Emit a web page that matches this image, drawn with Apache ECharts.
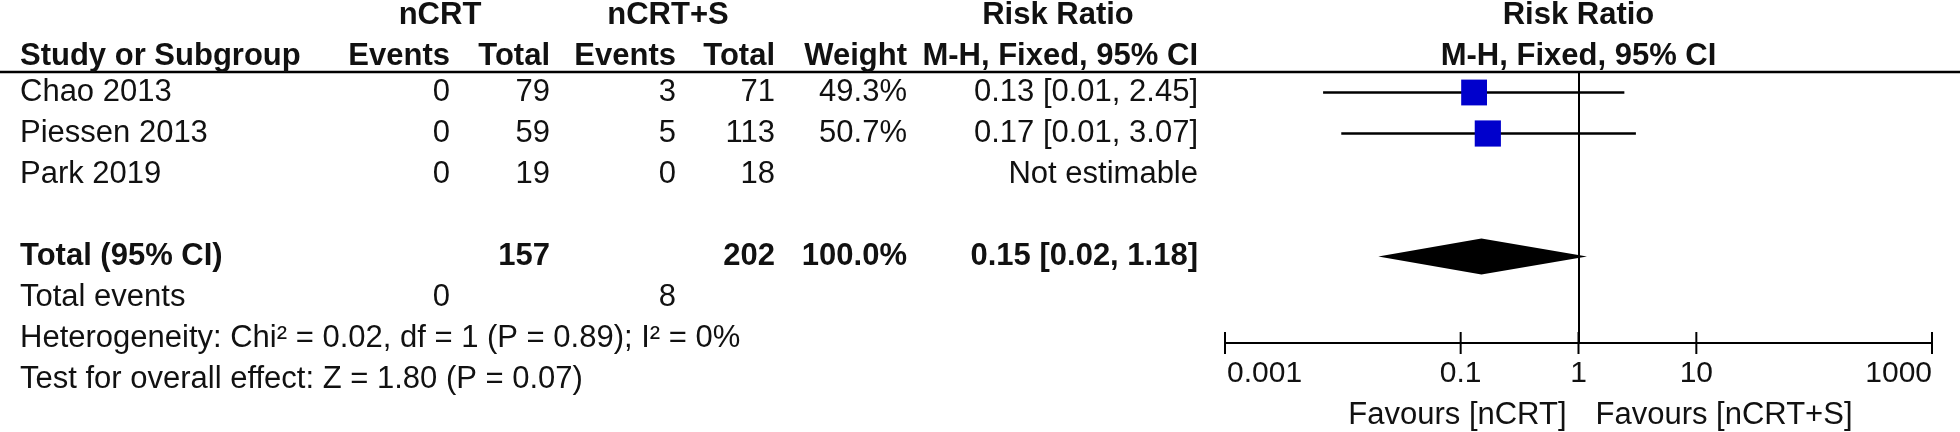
<!DOCTYPE html>
<html>
<head>
<meta charset="utf-8">
<title>Forest plot</title>
<script src="https://cdn.jsdelivr.net/npm/echarts@6.0.0/dist/echarts.min.js"></script>
<style>
  html, body { margin: 0; padding: 0; background: #fff; }
  #forest { width: 1960px; height: 432px; }
</style>
</head>
<body>
<div id="forest"></div>
<script>
// study rows
const studies = ['Chao 2013', 'Piessen 2013', 'Park 2019'];
const ncrtEvents = [0, 0, 0];
const ncrtTotal = [79, 59, 19];
const surgEvents = [3, 5, 0];
const surgTotal = [71, 113, 18];
const weightText = ['49.3%', '50.7%', ''];
const weightPct = [49.3, 50.7, null];
const rrText = ['0.13 [0.01, 2.45]', '0.17 [0.01, 3.07]', 'Not estimable'];
const rrEst = [0.13, 0.17, null];
const rrLow = [0.0068, 0.0097, null];
const rrHigh = [2.45, 3.07, null];

// pooled
const totalLabel = 'Total (95% CI)';
const totalNcrt = 157;
const totalSurg = 202;
const totalWeight = '100.0%';
const totalRRText = '0.15 [0.02, 1.18]';
const pooledRR = [0.02, 0.15, 1.18]; // low, est, high
const eventsNcrt = 0;
const eventsSurg = 8;
const hetText = 'Heterogeneity: Chi\u00B2 = 0.02, df = 1 (P = 0.89); I\u00B2 = 0%';
const effectText = 'Test for overall effect: Z = 1.80 (P = 0.07)';

// axis
const axisTicks = [0.001, 0.1, 1, 10, 1000];
const favours = ['Favours [nCRT]', 'Favours [nCRT+S]'];

// layout
const ROW = 41;
const FONT = '31px "Liberation Sans", Arial, sans-serif';
const BOLD = 'bold ' + FONT;
const COL = { study: 20, ev1: 450, tot1: 550, ev2: 676, tot2: 775, weight: 907, rr: 1198 };
const PLOT_H = 271;
const plotYMax = PLOT_H / ROW - 0.5;
const HEAD1 = -1.87, HEAD2 = -0.88;

// table cells
const cells = [];
function cell(x, row, text, align, bold) {
	cells.push({ x: x, row: row, text: String(text), align: align, bold: !!bold });
}
cell(440, HEAD1, 'nCRT', 'center', true);
cell(668, HEAD1, 'nCRT+S', 'center', true);
cell(1058, HEAD1, 'Risk Ratio', 'center', true);
cell(COL.study, HEAD2, 'Study or Subgroup', 'left', true);
cell(COL.ev1, HEAD2, 'Events', 'right', true);
cell(COL.tot1, HEAD2, 'Total', 'right', true);
cell(COL.ev2, HEAD2, 'Events', 'right', true);
cell(COL.tot2, HEAD2, 'Total', 'right', true);
cell(COL.weight, HEAD2, 'Weight', 'right', true);
cell(COL.rr, HEAD2, 'M-H, Fixed, 95% CI', 'right', true);
for (let i = 0; i < studies.length; i++) {
	cell(COL.study, i, studies[i], 'left');
	cell(COL.ev1, i, ncrtEvents[i], 'right');
	cell(COL.tot1, i, ncrtTotal[i], 'right');
	cell(COL.ev2, i, surgEvents[i], 'right');
	cell(COL.tot2, i, surgTotal[i], 'right');
	cell(COL.weight, i, weightText[i], 'right');
	cell(COL.rr, i, rrText[i], 'right');
}
cell(COL.study, 4, totalLabel, 'left', true);
cell(COL.tot1, 4, totalNcrt, 'right', true);
cell(COL.tot2, 4, totalSurg, 'right', true);
cell(COL.weight, 4, totalWeight, 'right', true);
cell(COL.rr, 4, totalRRText, 'right', true);
cell(COL.study, 5, 'Total events', 'left');
cell(COL.ev1, 5, eventsNcrt, 'right');
cell(COL.ev2, 5, eventsSurg, 'right');
cell(COL.study, 6, hetText, 'left');
cell(COL.study, 7, effectText, 'left');

function textEl(x, y, text, align, font) {
	return {
		type: 'text', x: x, y: y,
		style: { text: text, font: font, fill: '#111', align: align, verticalAlign: 'middle' }
	};
}

const studyData = [];
for (let i = 0; i < studies.length; i++) {
	if (rrEst[i] != null) studyData.push([rrLow[i], rrHigh[i], i, rrEst[i], weightPct[i]]);
}

const chart = echarts.init(document.getElementById('forest'));
chart.setOption({
	animation: false,
	grid: [
		{ left: 0, top: 0, width: 1960, height: ROW * 9.75 },
		{ left: 1225, top: 72, width: 707, height: PLOT_H }
	],
	xAxis: [
		{ gridIndex: 0, type: 'value', min: 0, max: 1960, show: false },
		{
			gridIndex: 1, type: 'log', logBase: 10, min: 0.001, max: 1000,
			axisLine: { show: true, onZero: false, lineStyle: { color: '#000', width: 2 } },
			axisTick: { show: false }, axisLabel: { show: false }, splitLine: { show: false }
		}
	],
	yAxis: [
		{ gridIndex: 0, type: 'value', inverse: true, min: -2.25, max: 7.5, show: false },
		{ gridIndex: 1, type: 'value', inverse: true, min: -0.5, max: plotYMax, show: false }
	],
	graphic: [{
		type: 'line', shape: { x1: 0, y1: 72, x2: 1960, y2: 72 },
		style: { stroke: '#000', lineWidth: 2.5 }
	}],
	series: [
		{
			type: 'custom', xAxisIndex: 0, yAxisIndex: 0,
			data: cells.map(c => [c.x, c.row]),
			renderItem: function (params, api) {
				const c = cells[params.dataIndex];
				const p = api.coord([api.value(0), api.value(1)]);
				return textEl(p[0], p[1], c.text, c.align, c.bold ? BOLD : FONT);
			}
		},
		{
			// confidence intervals + line of no effect
			type: 'custom', xAxisIndex: 1, yAxisIndex: 1,
			data: studyData,
			encode: { x: [0, 1], y: 2 },
			renderItem: function (params, api) {
				const a = api.coord([api.value(0), api.value(2)]);
				const b = api.coord([api.value(1), api.value(2)]);
				return {
					type: 'line', shape: { x1: a[0], y1: a[1], x2: b[0], y2: b[1] },
					style: { stroke: '#000', lineWidth: 2.5 }
				};
			},
			markLine: {
				silent: true, symbol: ['none', 'none'],
				label: { show: false },
				lineStyle: { color: '#000', width: 2, type: 'solid' },
				data: [{ xAxis: 1 }]
			}
		},
		{
			type: 'scatter', xAxisIndex: 1, yAxisIndex: 1,
			data: studyData.map(d => [d[3], d[2], d[4]]),
			symbol: 'rect',
			symbolSize: function (val) { return 26 * Math.sqrt(val[2] / 50); },
			itemStyle: { color: '#0000cc', opacity: 1 },
			z: 5
		},
		{
			// pooled diamond
			type: 'custom', xAxisIndex: 1, yAxisIndex: 1,
			data: [[pooledRR[0], pooledRR[1], pooledRR[2], 4]],
			encode: { x: [0, 1, 2], y: 3 },
			renderItem: function (params, api) {
				const l = api.coord([api.value(0), api.value(3)]);
				const m = api.coord([api.value(1), api.value(3)]);
				const r = api.coord([api.value(2), api.value(3)]);
				return {
					type: 'polygon',
					shape: { points: [[l[0], l[1]], [m[0], m[1] - 18], [r[0], r[1]], [m[0], m[1] + 18]] },
					style: { fill: '#000' }
				};
			},
			z: 4
		},
		{
			// axis ticks and labels
			type: 'custom', xAxisIndex: 1, yAxisIndex: 1,
			data: axisTicks.map(v => [v, plotYMax]),
			clip: false,
			renderItem: function (params, api) {
				const p = api.coord([api.value(0), api.value(1)]);
				const n = axisTicks.length;
				const align = params.dataIndex === 0 ? 'left' : (params.dataIndex === n - 1 ? 'right' : 'center');
				const label = String(axisTicks[params.dataIndex]);
				return {
					type: 'group',
					children: [
						{ type: 'line', shape: { x1: p[0], y1: p[1] - 11, x2: p[0], y2: p[1] + 11 }, style: { stroke: '#000', lineWidth: 2 } },
						textEl(p[0] + (align === 'left' ? 2 : 0), p[1] + 31, label, align, '30px "Liberation Sans", Arial, sans-serif')
					]
				};
			}
		},
		{
			// right-side header and favours labels
			type: 'custom', xAxisIndex: 1, yAxisIndex: 1,
			data: [[1, HEAD1], [1, HEAD2], [1, 7.87], [1, 7.87]],
			clip: false,
			renderItem: function (params, api) {
				const p = api.coord([api.value(0), api.value(1)]);
				const i = params.dataIndex;
				if (i === 0) return textEl(p[0], p[1], 'Risk Ratio', 'center', BOLD);
				if (i === 1) return textEl(p[0], p[1], 'M-H, Fixed, 95% CI', 'center', BOLD);
				if (i === 2) return textEl(p[0] - 12, p[1], favours[0], 'right', FONT);
				return textEl(p[0] + 17, p[1], favours[1], 'left', FONT);
			}
		}
	]
});
</script>
</body>
</html>
